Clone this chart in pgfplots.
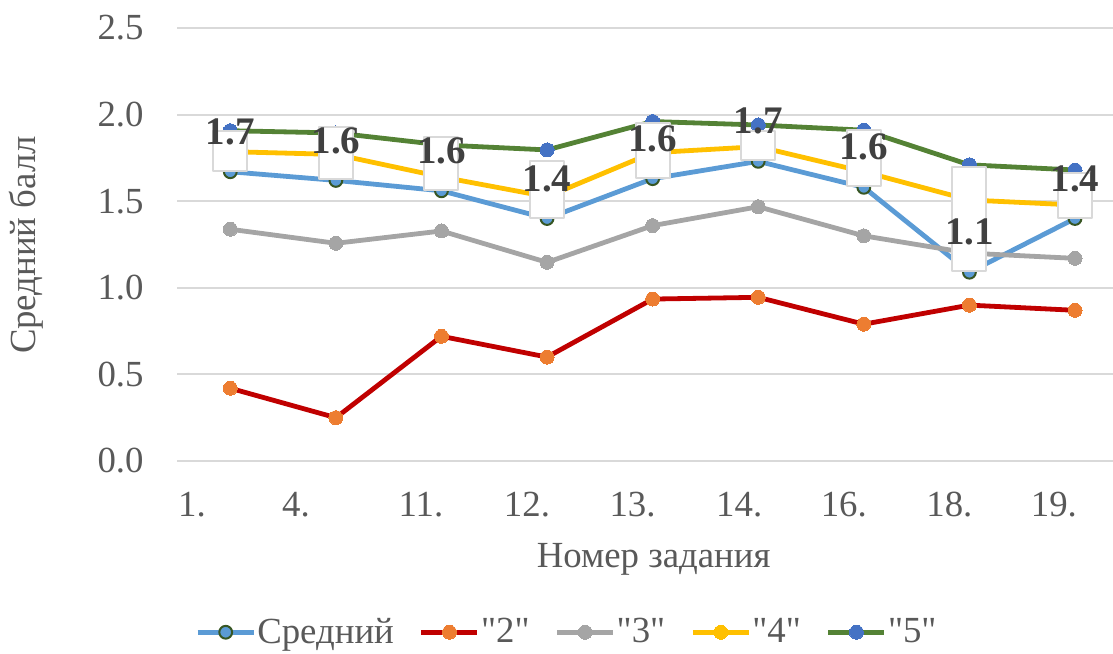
\documentclass[border=0pt]{standalone}
\usepackage{pgfplots}
\pgfplotsset{compat=1.18}
\usepackage{fontspec}
\setmainfont{Liberation Serif}[Ligatures=TeXOff]
\definecolor{cBlue}{HTML}{5B9BD5}
\definecolor{cRed}{HTML}{C00000}
\definecolor{cOrange}{HTML}{ED7D31}
\definecolor{cGray}{HTML}{A5A5A5}
\definecolor{cYellow}{HTML}{FFC000}
\definecolor{cGreen}{HTML}{548235}
\definecolor{cMark}{HTML}{4472C4}
\definecolor{cDark}{HTML}{375623}
\definecolor{gridgray}{HTML}{D9D9D9}
\definecolor{textgray}{HTML}{595959}
\definecolor{labelgray}{HTML}{404040}
\newcommand{\q}{\symbol{34}}
\begin{document}
\begin{tikzpicture}
\path[use as bounding box] (-88.75pt,-96pt) rectangle (467.75pt,230.5pt);
\begin{axis}[
  at={(0pt,0pt)}, anchor=south west,
  scale only axis, width=467.75pt, height=216.5pt,
  xmin=-0.5, xmax=8.36, ymin=0, ymax=2.5,
  ytick={0,0.5,1,1.5,2,2.5},
  xtick={-0.363,0.622,1.806,2.81,3.81,4.82,5.81,6.81,7.80},
  xticklabels={1.,4.,11.,12.,13.,14.,16.,18.,19.},
  ymajorgrids, grid style={draw=gridgray, line width=1pt},
  axis line style={draw=none},
  major tick length=0pt,
  /pgf/number format/assume math mode=true,
  tick label style={font=\fontsize{18.4}{22}\selectfont, text=textgray},
  yticklabel style={/pgf/number format/fixed, /pgf/number format/fixed zerofill, /pgf/number format/precision=1, anchor=east, inner sep=0pt, xshift=-16.75pt},
  xticklabel style={anchor=base, inner sep=0pt, yshift=-27.85pt},
  xlabel={Номер задания},
  ylabel={Средний балл},
  label style={font=\fontsize{18.4}{22}\selectfont, text=textgray},
  xlabel style={at={(axis description cs:0.509,0)}, anchor=base, yshift=-53pt, inner sep=0pt},
  ylabel style={at={(axis description cs:-0.1523,0.4988)}, anchor=base, inner sep=0pt},
  legend columns=-1,
  legend style={draw=none, fill=none, at={(axis description cs:0.4158,-0.3955)}, anchor=center,
    font=\fontsize{18.4}{22}\selectfont, text=textgray,
    /tikz/every even column/.append style={column sep=12pt},
    nodes={inner sep=0.6pt}, cells={anchor=west}},
  legend image code/.code={\draw[#1, mark repeat=2, mark phase=2] plot coordinates {(0pt,0pt) (14pt,0pt) (28pt,0pt)};},
  every axis plot/.append style={line width=2.4pt, line join=round},
]
\addplot[cBlue, mark=*, mark size=3.2pt, mark options={fill=cBlue, draw=cDark, line width=1pt}] coordinates {
(0,1.67) (1,1.62) (2,1.56) (3,1.40) (4,1.63) (5,1.73) (6,1.58) (7,1.09) (8,1.40)};
\addlegendentry{Средний}
\addplot[cRed, mark=*, mark size=3.5pt, mark options={fill=cOrange, draw=cOrange, line width=0pt}] coordinates {
(0,0.42) (1,0.25) (2,0.72) (3,0.60) (4,0.935) (5,0.945) (6,0.79) (7,0.90) (8,0.87)};
\addlegendentry{\q2\q}
\addplot[cGray, mark=*, mark size=3.5pt, mark options={fill=cGray, draw=cGray, line width=0pt}] coordinates {
(0,1.338) (1,1.257) (2,1.328) (3,1.147) (4,1.359) (5,1.468) (6,1.30) (7,1.20) (8,1.17)};
\addlegendentry{\q3\q}
\addplot[cYellow, mark=*, mark size=3.5pt, mark options={fill=cYellow, draw=cYellow, line width=0pt}] coordinates {
(0,1.786) (1,1.77) (2,1.64) (3,1.526) (4,1.78) (5,1.815) (6,1.67) (7,1.507) (8,1.478)};
\addlegendentry{\q4\q}
\addplot[cGreen, mark=*, mark size=3.5pt, mark options={fill=cMark, draw=cMark, line width=0pt}] coordinates {
(0,1.907) (1,1.894) (2,1.825) (3,1.796) (4,1.96) (5,1.94) (6,1.91) (7,1.71) (8,1.68)};
\addlegendentry{\q5\q}
% data label boxes
\addplot[draw=none, mark=none, forget plot,
  visualization depends on={\thisrow{h} \as \boxh},
  nodes near coords={},
  every node near coord/.append style={anchor=south, fill=white, draw=gridgray, line width=1pt, inner sep=0pt, minimum width=17pt, minimum height=\boxh pt}]
  table {
x y h
0 1.67 20
1 1.62 26
2 1.56 26.5
3 1.40 28.5
4 1.63 27.5
5 1.73 14.5
6 1.58 28
7 1.09 52
8 1.40 22.5
};
% data label texts
\addplot[draw=none, mark=none, forget plot,
  point meta=explicit symbolic,
  nodes near coords,
  every node near coord/.append style={anchor=center, yshift=20pt, inner sep=0pt, font=\bfseries\fontsize{19.5}{22}\selectfont, text=labelgray}]
  table[meta=l] {
x y l
0 1.67 1.7
1 1.62 1.6
2 1.56 1.6
3 1.40 1.4
4 1.63 1.6
5 1.73 1.7
6 1.58 1.6
7 1.09 1.1
8 1.40 1.4
};
\end{axis}
\end{tikzpicture}
\end{document}
